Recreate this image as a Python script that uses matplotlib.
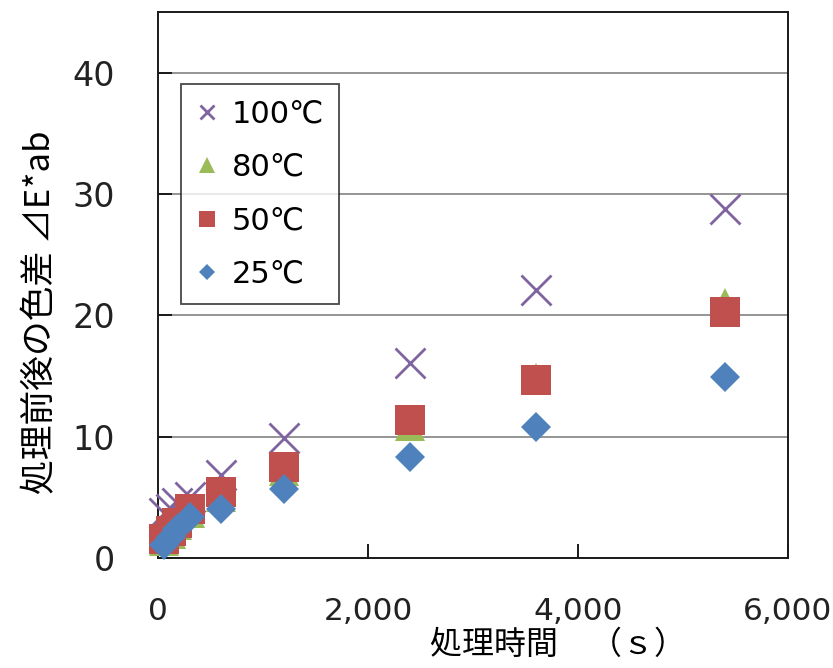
import matplotlib
matplotlib.use("Agg")
import matplotlib.pyplot as plt
import matplotlib.ticker as mticker

plt.rcParams.update({
    "font.family": ["DejaVu Sans", "Noto Sans CJK JP"],
    "font.size": 23,
    "axes.linewidth": 1.4,
})

# treatment time (s)
times = [60, 120, 180, 300, 600, 1200, 2400, 3600, 5400]

# colour difference before/after treatment, per temperature
de_100 = [3.7, 4.0, 4.5, 5.0, 6.8, 9.9, 16.1, 22.1, 28.8]
de_80 = [1.4, 2.0, 2.7, 3.7, 5.0, 7.2, 10.9, 14.8, 21.0]
de_50 = [1.6, 2.2, 2.9, 4.0, 5.4, 7.5, 11.4, 14.7, 20.3]
de_25 = [1.1, 1.7, 2.4, 3.4, 4.0, 5.7, 8.3, 10.8, 14.9]

labels = ["100℃", "80℃", "50℃", "25℃"]

PURPLE = "#8064A2"
GREEN = "#9BBB59"
RED = "#C0504D"
BLUE = "#4F81BD"
GRID = "#8c8c8c"
EDGE = "#1a1a1a"


def main() -> None:
    fig = plt.figure(figsize=(8.33, 6.68), dpi=100)
    ax = fig.add_axes([0.1897, 0.1647, 0.7563, 0.8173])

    ax.plot(times, de_100, ls="none", marker="x", ms=21, mew=2.0,
            color=PURPLE, label=labels[0], clip_on=False, zorder=3)
    ax.plot(times, de_80, ls="none", marker="^", ms=22, mew=0,
            color=GREEN, label=labels[1], clip_on=False, zorder=4)
    ax.plot(times, de_50, ls="none", marker="s", ms=22, mew=0,
            color=RED, label=labels[2], clip_on=False, zorder=5)
    ax.plot(times, de_25, ls="none", marker="D", ms=15.5, mew=0,
            color=BLUE, label=labels[3], clip_on=False, zorder=6)

    ax.set_xlim(0, 6000)
    ax.set_ylim(0, 45)
    ax.xaxis.set_major_locator(mticker.MultipleLocator(2000))
    ax.yaxis.set_major_locator(mticker.FixedLocator([0, 10, 20, 30, 40]))
    ax.xaxis.set_major_formatter(mticker.FuncFormatter(lambda v, p: f"{v:,.0f}"))

    ax.grid(axis="y", color=GRID, lw=1.3, zorder=0)
    ax.set_axisbelow(True)
    for s in ax.spines.values():
        s.set_color(EDGE)
    ax.tick_params(direction="in", length=10, width=1.4, colors=EDGE,
                   labelcolor="#222222", labelsize=24)
    ax.tick_params(axis="x", labelsize=22.5)
    ax.tick_params(axis="y", pad=31)
    ax.tick_params(axis="x", pad=28)

    cjk = ["Noto Sans CJK JP", "DejaVu Sans"]
    ax.set_ylabel("処理前後の色差 ⊿E*ab", family=cjk, fontsize=25)
    ax.yaxis.set_label_coords(-0.158, 0.45)
    ax.set_xlabel("処理時間　（ｓ）", family=cjk, fontsize=23)
    ax.xaxis.set_label_coords(0.635, -0.13)

    leg = ax.legend(loc="upper left", bbox_to_anchor=(0.0365, 0.868),
                    borderaxespad=0, markerscale=0.5, fancybox=False,
                    handlelength=0.7, handletextpad=0.45, labelspacing=0.8,
                    borderpad=0.5, fontsize=22)
    leg.get_frame().set_edgecolor(EDGE)
    leg.get_frame().set_linewidth(1.3)

    fig.savefig("out.png", dpi=100)
    plt.close(fig)


if __name__ == "__main__":
    main()
